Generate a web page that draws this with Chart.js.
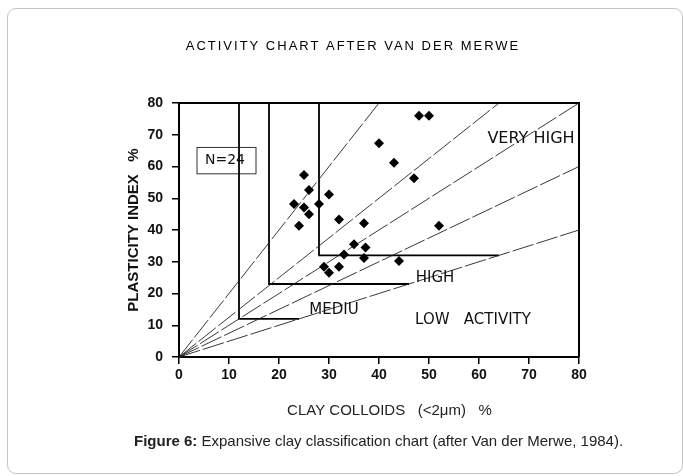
<!DOCTYPE html>
<html>
<head>
<meta charset="utf-8">
<script src="https://cdn.jsdelivr.net/npm/chart.js@4"></script>
<style>
  body { margin: 0; background: #fff; }
  #wrap { position: relative; width: 683px; height: 476px; overflow: hidden; }
  #frame {
    position: absolute; left: 7px; top: 8px; width: 676px; height: 466px;
    box-sizing: border-box; border: 1.5px solid #c4c4c4; border-radius: 9px;
    pointer-events: none;
  }
  #caption {
    position: absolute; left: 134px; top: 432px;
    font: 15px "Liberation Sans", Arial, sans-serif; color: #222; white-space: nowrap;
  }
  canvas { position: absolute; left: 0; top: 0; }
</style>
</head>
<body>
<div id="wrap">
  <canvas id="activityChart" width="683" height="476"></canvas>
  <div id="frame"></div>
  <div id="caption"><b>Figure 6:</b> Expansive clay classification chart (after Van der Merwe, 1984).</div>
</div>
<script>
// sample points: clay fraction (<2 um) % vs plasticity index %
const clayX = [48, 50, 40, 43, 47, 25, 26, 30, 23, 28, 25, 26, 24, 32, 37, 52, 35, 37.3, 33, 37, 44, 29, 32, 30];
const piY   = [76, 76, 67.3, 61.2, 56.3, 57.3, 52.6, 51.2, 48.2, 48.2, 47.1, 45, 41.3, 43.3, 42.1, 41.3, 35.5, 34.5, 32.3, 31.2, 30.2, 28.4, 28.4, 26.5];

// activity lines through the origin, end points on the chart edge
const lineEndX = [40, 64, 80, 80, 80];
const lineEndY = [80, 80, 80, 60, 40];

// zone boundaries: vertical at x, step down to y, run right to end
const boundX   = [12, 18, 28];
const boundY   = [12, 23, 32];
const boundEnd = [24, 46, 64];

const ticks = [0, 10, 20, 30, 40, 50, 60, 70, 80];

const zoneLabels = [
  { text: 'VERY HIGH', x: 70.4, y: 68.7, size: 16 },
  { text: 'HIGH', x: 51.2, y: 24.8, size: 15 },
  { text: 'MEDIU', x: 31, y: 14.7, size: 15 },
  { text: 'LOW   ACTIVITY', x: 58.8, y: 11.6, size: 15 }
];

const datasets = [];

datasets.push({
    label: 'samples',
    data: clayX.map((x, i) => ({ x, y: piY[i] })),
    pointStyle: 'rectRot',
    pointRadius: 5,
    pointHoverRadius: 5,
    backgroundColor: '#000',
    borderColor: '#000',
    borderWidth: 0
});

lineEndX.forEach((ex, i) => {
    datasets.push({
        label: 'activity ' + i,
        data: [{ x: 0, y: 0 }, { x: ex, y: lineEndY[i] }],
        showLine: true,
        borderColor: '#222',
        borderWidth: 0.9,
        borderDash: [22, 3],
        pointRadius: 0
    });
});

boundX.forEach((bx, i) => {
    datasets.push({
        label: 'zone ' + i,
        data: [{ x: bx, y: 80 }, { x: bx, y: boundY[i] }, { x: boundEnd[i], y: boundY[i] }],
        showLine: true,
        borderColor: '#000',
        borderWidth: 1.8,
        pointRadius: 0
    });
});

const boxPlugin = {
    id: 'plotBox',
    beforeDatasetsDraw(chart) {
        const { ctx, scales: { x, y } } = chart;
        // N=24 box
        const l = x.getPixelForValue(3.6), r = x.getPixelForValue(15.4);
        const t = y.getPixelForValue(66), b = y.getPixelForValue(57.7);
        ctx.save();
        ctx.strokeStyle = '#333';
        ctx.lineWidth = 1;
        ctx.strokeRect(l, t, r - l, b - t);
        ctx.fillStyle = '#111';
        ctx.font = '14px "DejaVu Sans"';
        ctx.textAlign = 'center';
        ctx.textBaseline = 'middle';
        ctx.fillText('N=24', x.getPixelForValue(9.2), y.getPixelForValue(62));
        ctx.restore();
    },
    afterDraw(chart) {
        const { ctx, chartArea: a, scales: { x, y } } = chart;
        ctx.save();
        ctx.strokeStyle = '#000';
        ctx.lineWidth = 2;
        ctx.beginPath();
        ctx.moveTo(a.left, a.top);
        ctx.lineTo(a.right, a.top);
        ctx.lineTo(a.right, a.bottom);
        ctx.stroke();

        ctx.fillStyle = '#111';
        ctx.textAlign = 'center';
        ctx.textBaseline = 'middle';
        zoneLabels.forEach(z => {
            ctx.font = z.size + 'px "DejaVu Sans"';
            ctx.fillText(z.text, x.getPixelForValue(z.x), y.getPixelForValue(z.y));
        });

        // heading, letter spaced
        ctx.font = '13px "Liberation Sans"';
        ctx.letterSpacing = '2px';
        ctx.fillStyle = '#000';
        ctx.fillText('ACTIVITY CHART AFTER VAN DER MERWE', 353, 46);
        ctx.restore();
    }
};

const axisGrid = {
    drawOnChartArea: false,
    drawTicks: true,
    tickLength: 7,
    color: '#000',
    lineWidth: 1.5
};

new Chart(document.getElementById('activityChart'), {
    type: 'scatter',
    data: { datasets },
    options: {
        responsive: false,
        animation: false,
        events: [],
        layout: { padding: { left: 100, top: 103, right: 104, bottom: 49 } },
        plugins: {
            legend: { display: false },
            tooltip: { enabled: false }
        },
        scales: {
            x: {
                type: 'linear',
                min: 0, max: 80,
                afterBuildTicks: s => { s.ticks = ticks.map(v => ({ value: v })); },
                afterFit: s => { s.height = 70; },
                grid: axisGrid,
                border: { display: true, color: '#000', width: 2 },
                ticks: {
                    color: '#111',
                    padding: 3,
                    maxRotation: 0,
                    font: { family: '"Liberation Sans"', size: 14, weight: 'bold' }
                },
                title: {
                    display: true,
                    text: '     CLAY COLLOIDS   (<2μm)   %',
                    color: '#222',
                    padding: { top: 0, bottom: 7 },
                    font: { family: '"Liberation Sans"', size: 15 }
                }
            },
            y: {
                type: 'linear',
                min: 0, max: 80,
                afterBuildTicks: s => { s.ticks = ticks.map(v => ({ value: v })); },
                afterFit: s => { s.width = 79; },
                grid: axisGrid,
                border: { display: true, color: '#000', width: 2 },
                ticks: {
                    color: '#111',
                    padding: 9,
                    font: { family: '"Liberation Sans"', size: 14, weight: 'bold' }
                },
                title: {
                    display: true,
                    text: 'PLASTICITY INDEX   %',
                    color: '#111',
                    padding: { top: 25, bottom: 0 },
                    font: { family: '"Liberation Sans"', size: 15, weight: 'bold' }
                }
            }
        }
    },
    plugins: [boxPlugin]
});
</script>
</body>
</html>
